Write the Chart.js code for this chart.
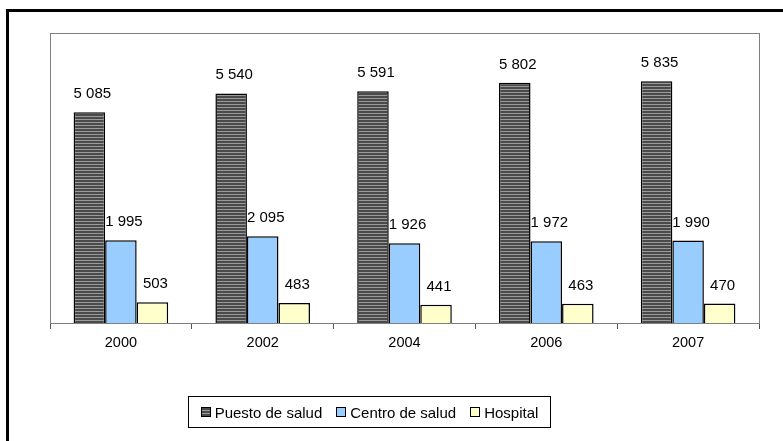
<!DOCTYPE html>
<html>
<head>
<meta charset="utf-8">
<script src="https://cdn.jsdelivr.net/npm/chart.js@4/dist/chart.umd.min.js"></script>
<style>
  html, body { margin: 0; padding: 0; background: #fff; overflow: hidden; }
  #wrap { position: relative; width: 783px; height: 441px; }
  #frame { position: absolute; left: 6px; top: 9px; width: 800px; height: 460px;
           border-left: 3px solid #000; border-top: 3px solid #000; box-sizing: border-box; }
  #chart { position: absolute; left: 0; top: 0; }
  #legend { position: absolute; left: 188px; top: 396px; width: 363px; height: 32px;
            border: 1px solid #000; box-sizing: border-box; display: flex; align-items: center;
            justify-content: center; white-space: nowrap;
            font-family: "Liberation Sans", Arial, sans-serif; font-size: 15px; color: #000; }
  #legend .item { display: flex; align-items: center; flex-shrink: 0; margin: 0 7px; }
  #legend .box { width: 8px; height: 8px; border: 1.5px solid #000; margin-right: 4px; flex-shrink: 0; }
</style>
</head>
<body>
<div id="wrap">
  <div id="frame"></div>
  <canvas id="chart" width="783" height="441"></canvas>
  <div id="legend"></div>
</div>
<script>
const years = ['2000', '2002', '2004', '2006', '2007'];
const puesto = [5085, 5540, 5591, 5802, 5835];
const centro = [1995, 2095, 1926, 1972, 1990];
const hospital = [503, 483, 441, 463, 470];
const seriesNames = ['Puesto de salud', 'Centro de salud', 'Hospital'];

function fmt(v) {
    return String(v).replace(/\B(?=(\d{3})+(?!\d))/g, ' ');
}

// horizontal stripes for the dark series
const pc = document.createElement('canvas');
pc.width = 4; pc.height = 3;
const pctx = pc.getContext('2d');
pctx.fillStyle = '#4a4a4a'; pctx.fillRect(0, 0, 4, 3);
pctx.fillStyle = '#9a9a9a'; pctx.fillRect(0, 2, 4, 1);
const stripes = pctx.createPattern(pc, 'repeat');

const fills = [stripes, '#99ccff', '#ffffcc'];
const legendFills = ['repeating-linear-gradient(to bottom, #4a4a4a 0 2px, #9a9a9a 2px 3px)', '#99ccff', '#ffffcc'];

const plotFrame = {
    id: 'plotFrame',
    beforeDatasetsDraw(chart) {
        const a = chart.chartArea, ctx = chart.ctx;
        ctx.save();
        ctx.strokeStyle = '#808080';
        ctx.lineWidth = 1;
        ctx.strokeRect(Math.round(a.left) + 0.5, Math.round(a.top) + 0.5,
                       Math.round(a.right - a.left), Math.round(a.bottom - a.top));
        ctx.restore();
    }
};

const valueLabels = {
    id: 'valueLabels',
    afterDatasetsDraw(chart) {
        const ctx = chart.ctx;
        ctx.save();
        ctx.font = '15px "Liberation Sans", Arial, sans-serif';
        ctx.fillStyle = '#000';
        ctx.textAlign = 'center';
        ctx.textBaseline = 'alphabetic';
        chart.data.datasets.forEach((ds, i) => {
            chart.getDatasetMeta(i).data.forEach((bar, j) => {
                ctx.fillText(fmt(ds.data[j]), bar.x + 3, bar.y - 14);
            });
        });
        ctx.restore();
    }
};

const data = {
    labels: years,
    datasets: [
        { label: seriesNames[0], data: puesto, backgroundColor: fills[0] },
        { label: seriesNames[1], data: centro, backgroundColor: fills[1] },
        { label: seriesNames[2], data: hospital, backgroundColor: fills[2] }
    ].map(d => Object.assign(d, {
        borderColor: '#000', borderWidth: 1.5,
        categoryPercentage: 0.667, barPercentage: 1.0
    }))
};

const config = {
    type: 'bar',
    data: data,
    options: {
        responsive: false,
        animation: false,
        layout: { padding: { left: 50, right: 24, top: 33, bottom: 88 } },
        plugins: {
            legend: { display: false },
            tooltip: { enabled: false }
        },
        scales: {
            x: {
                afterFit(scale) { scale.height = 30; },
                grid: { display: true, drawOnChartArea: false, drawTicks: true, tickLength: 6, color: '#555', offset: true },
                border: { display: true, color: '#333', width: 1 },
                ticks: { color: '#000', padding: 5, font: { family: '"Liberation Sans", Arial, sans-serif', size: 14.5 } }
            },
            y: {
                display: false,
                min: 0,
                max: 7000
            }
        }
    },
    plugins: [plotFrame, valueLabels]
};

const ctx = document.getElementById('chart').getContext('2d');
const chart = new Chart(ctx, config);

const legend = document.getElementById('legend');
seriesNames.forEach((name, i) => {
    const item = document.createElement('div');
    item.className = 'item';
    const box = document.createElement('span');
    box.className = 'box';
    box.style.background = legendFills[i];
    const txt = document.createElement('span');
    txt.textContent = name;
    item.appendChild(box);
    item.appendChild(txt);
    legend.appendChild(item);
});
</script>
</body>
</html>
